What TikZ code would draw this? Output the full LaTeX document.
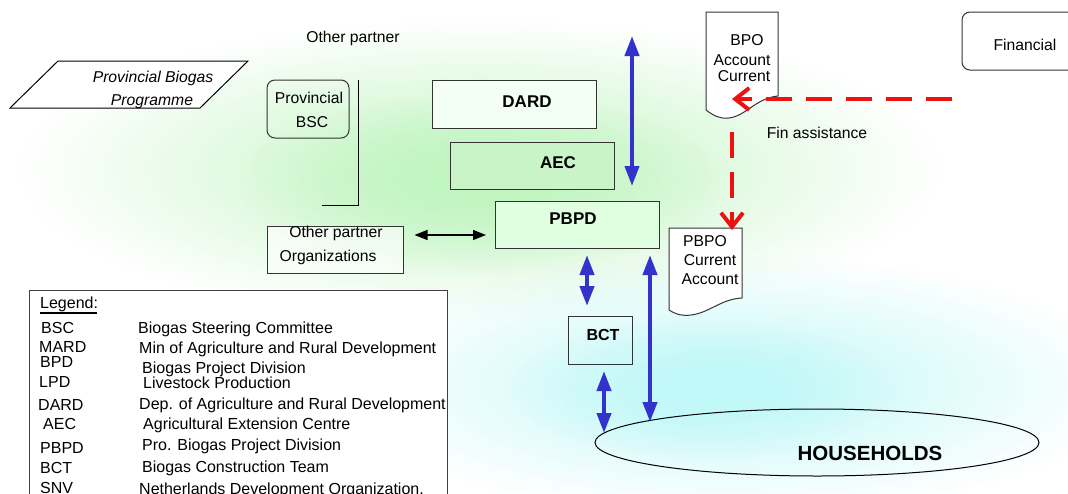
\documentclass[tikz,border=0pt]{standalone}
\usepackage{fontspec}
\setmainfont{Liberation Sans}
\usetikzlibrary{arrows.meta,fadings,shapes.geometric}
\tikzfading[name=glowfade, inner color=transparent!0, outer color=transparent!100]
\definecolor{arrowblue}{HTML}{3333CC}
\definecolor{glowgreen}{HTML}{C0F5C0}
\definecolor{glowcyan}{HTML}{C0F8F8}
\definecolor{boxgreen}{HTML}{C8F4C8}
\definecolor{dashred}{HTML}{EE1111}
\begin{document}
\begin{tikzpicture}[x=1pt,y=-1pt,
  txt/.style={font=\fontsize{15.7}{17}\selectfont, inner sep=0pt, anchor=base},
  ltxt/.style={font=\fontsize{16}{17}\selectfont, inner sep=0pt, anchor=base west},
  btxt/.style={font=\fontsize{17}{19}\selectfont\bfseries, inner sep=0pt, anchor=base},
  box/.style={draw=black!80, line width=1pt, rectangle, inner sep=0pt},
  rbox/.style={draw=black!80, line width=1pt, rectangle, rounded corners=8pt, inner sep=0pt},
  doc/.style={draw=black!80, line width=1pt, fill=white},
  bluearrow/.style={draw=arrowblue, line width=4pt, {Triangle[length=20pt,width=14pt]}-{Triangle[length=20pt,width=14pt]}},
  blackarrow/.style={draw=black, line width=1.3pt, {Triangle[length=13pt,width=10pt]}-{Triangle[length=13pt,width=10pt]}},
  reddash/.style={draw=dashred, line width=4pt, dash pattern=on 26pt off 14pt, -{Straight Barb[length=14pt,width=22pt]}}
]
\useasboundingbox (0,0) rectangle (1068,493);
\clip (0,0) rectangle (1068,493);
\fill[white] (0,0) rectangle (1068,493);
% background glows
\fill[glowgreen, path fading=glowfade] (480,170) ellipse (460pt and 150pt);
\fill[glowgreen, path fading=glowfade] (480,185) ellipse (240pt and 90pt);
\fill[glowcyan, path fading=glowfade] (730,385) ellipse (400pt and 130pt);
\fill[glowcyan, path fading=glowfade] (700,390) ellipse (190pt and 70pt);

% top-left
\node[txt] (otherp) at (353,42.5) {Other partner};
\coordinate (pg1) at (58,61); \coordinate (pg2) at (248,61);
\coordinate (pg3) at (200,108); \coordinate (pg4) at (10,108);
\draw[black, line width=1pt, fill=white] (pg1) -- (pg2) -- (pg3) -- (pg4) -- cycle;
\node[txt, font=\fontsize{15.7}{17}\selectfont\itshape] (pbp1) at (153,82.5) {Provincial Biogas};
\node[txt, font=\fontsize{15.7}{17}\selectfont\itshape] (pbp2) at (152,105.5) {Programme};

\node[rbox, minimum width=82pt, minimum height=58pt] (bsc) at (308,109) {};
\node[txt] (bsct1) at (309,103.5) {Provincial};
\node[txt] (bsct2) at (312,127.5) {BSC};
\coordinate (br1) at (358,80); \coordinate (br2) at (358,205); \coordinate (br3) at (322,205);
\draw[black, line width=1pt] (br1) -- (br2) -- (br3);

% central boxes
\node[box, minimum width=164pt, minimum height=48pt, fill=green!5] (dard) at (514,104) {};
\node[btxt] (dardt) at (527,107) {DARD};
\node[box, minimum width=164pt, minimum height=47pt, fill=boxgreen] (aec) at (532,165.5) {};
\node[btxt] (aect) at (558,168) {AEC};
\coordinate (va1) at (632,36); \coordinate (va2) at (632,186);
\draw[bluearrow] (va1) -- (va2);

\node[box, minimum width=164pt, minimum height=47pt, fill=green!12] (pbpd) at (577.5,224.5) {};
\node[btxt] (pbpdt) at (573,224) {PBPD};

\node[box, minimum width=136pt, minimum height=47pt, fill=white, fill opacity=0.6, text opacity=1] (oorg) at (335,249.5) {};
\node[txt] (oorg1) at (336,237.5) {Other partner};
\node[txt] (oorg2) at (328,261.5) {Organizations};
\draw[blackarrow] ([xshift=11pt]oorg.east |- 0,235) -- ([xshift=-9pt]pbpd.west |- 0,235);

% BPO document
\draw[doc] (706,12) -- (706,110) .. controls (714,116) and (720,119) .. (729,118)
  .. controls (746,116) and (756,98) .. (778,96) -- (778,12) -- cycle;
\node[txt] (bpo1) at (747,45.5) {BPO};
\node[txt] (bpo2) at (742,65.5) {Account};
\node[txt] (bpo3) at (744,81.5) {Current};

\node[rbox, minimum width=130pt, minimum height=58pt] (fin) at (1027,41) {};
\node[txt] (fint) at (1025,50.5) {Financial};
\node[txt] (fina) at (817,138.5) {Fin assistance};

% PBPO document
\draw[doc] (669,228) -- (669,310) .. controls (677,315) and (683,316) .. (691,315)
  .. controls (709,313) and (721,299) .. (742,298) -- (742,228) -- cycle;
\node[txt] (pbpo1) at (705,246.5) {PBPO};
\node[txt] (pbpo2) at (710,265.5) {Current};
\node[txt] (pbpo3) at (710,284.5) {Account};

% red dashed
\coordinate (r1) at (952,99); \coordinate (r2) at (732,99);
\draw[reddash] (r1) -- (r2);
\coordinate (r3) at (732,132); \coordinate (r4) at (732,230);
\draw[reddash] (r3) -- (r4);

% BCT and households
\node[box, minimum width=64pt, minimum height=48pt] (bct) at (600,340) {};
\node[btxt, font=\fontsize{16}{18}\selectfont\bfseries] (bctt) at (603,340) {BCT};
\node[draw=black, line width=1pt, ellipse, minimum width=444pt, minimum height=67pt, inner sep=0pt] (hh) at (817,442.5) {};
\node[btxt, font=\fontsize{20.5}{22}\selectfont\bfseries] (hht) at (870,460.3) {HOUSEHOLDS};

\coordinate (b1) at (587,255); \coordinate (b2) at (587,306);
\draw[bluearrow] (b1) -- (b2);
\coordinate (b3) at (650,255); \coordinate (b4) at (650,422);
\draw[bluearrow] (b3) -- (b4);
\coordinate (b5) at (604,371); \coordinate (b6) at (604,433);
\draw[bluearrow] (b5) -- (b6);

% legend
\node[draw=black!75, line width=1.3pt, fill=white, rectangle, inner sep=0pt, minimum width=418pt, minimum height=230pt, anchor=north west] (legend) at (29,290) {};
\node[ltxt] (lg) at (40,308.5) {Legend:};
\draw[black, line width=1.3pt] (40,313) -- (97,313);
\node[ltxt] at (41,333.5) {BSC};   \node[ltxt] at (138,333.5) {Biogas Steering Committee};
\node[ltxt] at (39,352.5) {MARD};  \node[ltxt] at (139,353.5) {Min of Agriculture and Rural Development};
\node[ltxt] at (40,367.5) {BPD};   \node[ltxt] at (142,373.5) {Biogas Project Division};
\node[ltxt] at (39,387.5) {LPD};   \node[ltxt] at (143,388.5) {Livestock Production};
\node[ltxt] at (38,410.5) {DARD};  \node[ltxt] at (139,409.5) {Dep. of Agriculture and Rural Development};
\node[ltxt] at (43,429.5) {AEC};   \node[ltxt] at (143,429.5) {Agricultural Extension Centre};
\node[ltxt] at (40,453.5) {PBPD};  \node[ltxt] at (142,450.5) {Pro. Biogas Project Division};
\node[ltxt] at (40,473.5) {BCT};   \node[ltxt] at (142,472.5) {Biogas Construction Team};
\node[ltxt] at (40,493.5) {SNV};   \node[ltxt] at (139,494.5) {Netherlands Development Organization.};
\end{tikzpicture}
\end{document}
